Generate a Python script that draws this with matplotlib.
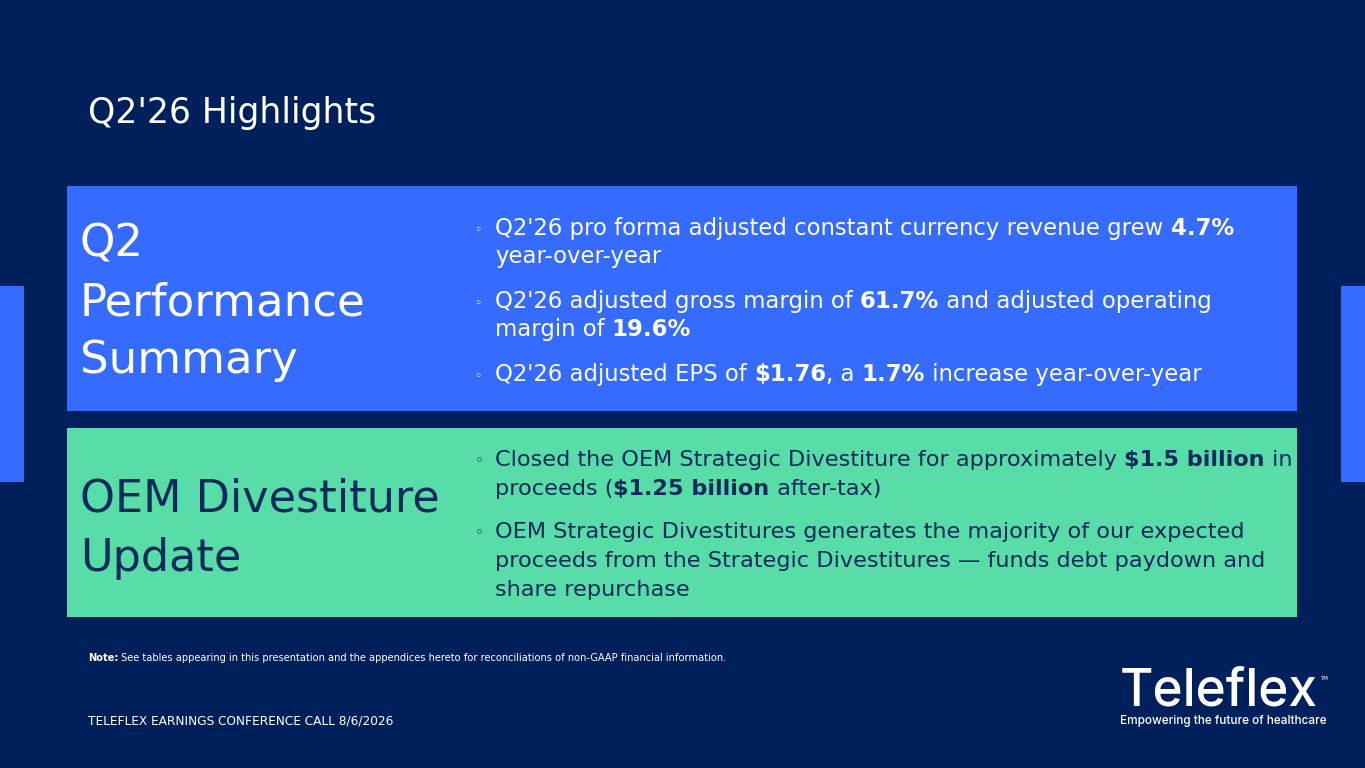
import matplotlib
matplotlib.use("Agg")
import matplotlib.pyplot as plt
from matplotlib.patches import Rectangle

W, H = 1365, 768
NAVY = "#00205c"
BLUE = "#366bff"
GREEN = "#58dca8"
DARK = "#0b2a5c"
FONT = "DejaVu Sans"

title = "Q2'26 Highlights"

perf_label = ["Q2", "Performance", "Summary"]
# each line is a list of (text, bold) runs
perf_lines = [
    [("Q2'26 pro forma adjusted constant currency revenue grew ", False), ("4.7%", True)],
    [("year-over-year", False)],
    [("Q2'26 adjusted gross margin of ", False), ("61.7%", True), (" and adjusted operating", False)],
    [("margin of ", False), ("19.6%", True)],
    [("Q2'26 adjusted EPS of ", False), ("$1.76", True), (", a ", False), ("1.7%", True),
     (" increase year-over-year", False)],
]
perf_bullets = [True, False, True, False, True]

oem_label = ["OEM Divestiture", "Update"]
oem_lines = [
    [("Closed the OEM Strategic Divestiture for approximately ", False), ("$1.5 billion", True), (" in", False)],
    [("proceeds (", False), ("$1.25 billion", True), (" after-tax)", False)],
    [("OEM Strategic Divestitures generates the majority of our expected", False)],
    [("proceeds from the Strategic Divestitures \u2014 funds debt paydown and", False)],
    [("share repurchase", False)],
]
oem_bullets = [True, False, True, False, False]

note_runs = [("Note:", True),
             (" See tables appearing in this presentation and the appendices hereto for "
              "reconciliations of non-GAAP financial information.", False)]
footer = "TELEFLEX EARNINGS CONFERENCE CALL 8/6/2026"
logo = "Teleflex"
tagline = "Empowering the future of healthcare"


fig = plt.figure(figsize=(W / 100, H / 100), dpi=100, facecolor=NAVY)
ax = fig.add_axes([0, 0, 1, 1])
ax.set_xlim(0, W)
ax.set_ylim(H, 0)
ax.axis('off')
renderer = fig.canvas.get_renderer()


def draw_runs(x, y, runs, size, color):
    # place text pieces one after another on the same baseline
    for text, bold in runs:
        t = ax.text(x, y, text, fontsize=size, color=color, family=FONT,
                    fontweight='bold' if bold else 'normal', va='baseline', ha='left')
        x += t.get_window_extent(renderer).width
    return x


def draw_block(lines, bullets, baselines, size, color, bx, bsize):
    for runs, bul, y in zip(lines, bullets, baselines):
        if bul:
            ax.text(bx, y - 1, "\u25e6", fontsize=bsize, color=color, family=FONT,
                    va='baseline', ha='left')
        draw_runs(495, y, runs, size, color)


# side tabs
ax.add_patch(Rectangle((0, 286), 24, 196, color=BLUE, lw=0))
ax.add_patch(Rectangle((1341, 286), 24, 196, color=BLUE, lw=0))

# panels
ax.add_patch(Rectangle((67, 186), 1230, 225, color=BLUE, lw=0))
ax.add_patch(Rectangle((67, 428), 1230, 189, color=GREEN, lw=0))

ax.text(88, 123, title, fontsize=24.9, color='white', family=FONT, va='baseline')

for s, y in zip(perf_label, [256, 315, 373]):
    ax.text(80, y, s, fontsize=32.4, color='white', family=FONT, va='baseline')
draw_block(perf_lines, perf_bullets, [235, 263, 308, 336, 381], 16.4, 'white', 474, 9)

for s, y in zip(oem_label, [512, 571]):
    ax.text(80, y, s, fontsize=32, color=DARK, family=FONT, va='baseline')
draw_block(oem_lines, oem_bullets, [466, 495, 538, 567, 596], 16.1, DARK, 475, 11)

draw_runs(88, 661, note_runs, 7.1, 'white')
ax.text(88, 724, footer, fontsize=8.7, color='white', family=FONT, va='baseline')

ax.text(1120, 705, logo, fontsize=37, color='white', family='Inter',
        fontweight='medium', va='baseline')
ax.text(1320, 680, "TM", fontsize=4, color='white', family=FONT, va='baseline')
ax.text(1120, 724, tagline, fontsize=8.5, color='white', family='Inter',
        fontweight='medium', va='baseline')

fig.savefig("out.png", dpi=100, facecolor=NAVY)
